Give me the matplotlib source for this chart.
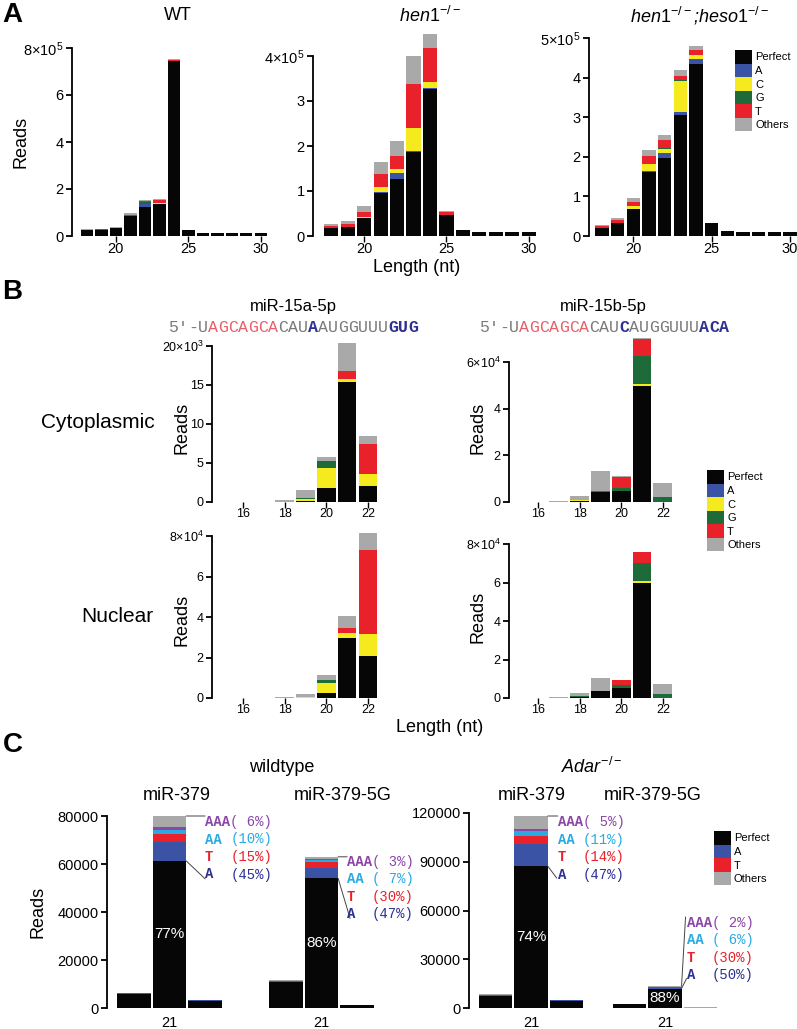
import numpy as np
import matplotlib
matplotlib.use('Agg')
import matplotlib.pyplot as plt
from matplotlib.patches import Patch

plt.rcParams['font.family'] = ['Liberation Sans', 'DejaVu Sans']
plt.rcParams['mathtext.fontset'] = 'custom'
plt.rcParams['mathtext.rm'] = 'Liberation Sans'
plt.rcParams['mathtext.it'] = 'Liberation Sans:italic'
plt.rcParams['mathtext.bf'] = 'Liberation Sans:bold'

# ---------------- data ----------------
# colours
c_perfect, c_A, c_C, c_G, c_T, c_oth = '#060606', '#3a53a4', '#f4ea1e', '#1d6b38', '#e8212a', '#a9a9a9'
c_AA, c_AAA = '#29abe2', '#8c46a8'
c_dblue = '#2e3192'

# panel A: lengths 18..30, reads in units of 1e5
lenA = np.arange(18, 31)
wt_perfect = [0.24, 0.27, 0.32, 0.85, 1.22, 1.36, 7.45, 0.26, 0.14, 0.11, 0.11, 0.11, 0.11]
wt_A = [0, 0, 0, 0, 0.13, 0, 0, 0, 0, 0, 0, 0, 0]
wt_C = [0, 0, 0, 0, 0.02, 0.05, 0.01, 0, 0, 0, 0, 0, 0]
wt_G = [0, 0, 0, 0, 0.06, 0.01, 0, 0, 0, 0, 0, 0, 0]
wt_T = [0.01, 0.01, 0.01, 0.03, 0.04, 0.10, 0.03, 0, 0, 0, 0, 0, 0]
wt_oth = [0.03, 0.02, 0.04, 0.09, 0.08, 0.04, 0.04, 0.01, 0, 0, 0, 0, 0]

hen_perfect = [0.17, 0.21, 0.39, 0.96, 1.26, 1.87, 3.26, 0.47, 0.13, 0.09, 0.09, 0.09, 0.09]
hen_A = [0, 0, 0, 0.02, 0.14, 0.02, 0.02, 0, 0, 0, 0, 0, 0]
hen_C = [0, 0, 0.04, 0.12, 0.10, 0.50, 0.14, 0, 0, 0, 0, 0, 0]
hen_G = [0] * 13
hen_T = [0.05, 0.06, 0.10, 0.28, 0.28, 0.98, 0.76, 0.06, 0, 0, 0, 0, 0]
hen_oth = [0.05, 0.07, 0.14, 0.26, 0.34, 0.63, 0.30, 0.03, 0, 0, 0, 0, 0]

hh_perfect = [0.21, 0.34, 0.69, 1.61, 1.98, 3.05, 4.35, 0.32, 0.12, 0.09, 0.09, 0.09, 0.09]
hh_A = [0, 0, 0, 0.02, 0.12, 0.09, 0.12, 0, 0, 0, 0, 0, 0]
hh_C = [0, 0, 0.06, 0.19, 0.10, 0.78, 0.11, 0, 0, 0, 0, 0, 0]
hh_G = [0, 0, 0, 0, 0.03, 0.02, 0, 0, 0, 0, 0, 0, 0]
hh_T = [0.04, 0.07, 0.12, 0.20, 0.19, 0.11, 0.12, 0, 0, 0, 0, 0, 0]
hh_oth = [0.03, 0.04, 0.10, 0.14, 0.13, 0.13, 0.09, 0.01, 0, 0, 0, 0, 0]

# panel B: lengths 16..22
lenB = np.arange(16, 23)
# miR-15a cytoplasmic (1e3)
a_cy_perfect = [0, 0, 0.03, 0.15, 1.8, 15.4, 2.1]
a_cy_A = [0] * 7
a_cy_C = [0, 0, 0.02, 0.25, 2.5, 0.4, 1.5]
a_cy_G = [0, 0, 0, 0.05, 0.9, 0, 0]
a_cy_T = [0, 0, 0, 0, 0, 1.0, 3.85]
a_cy_oth = [0.02, 0.05, 0.25, 1.13, 0.57, 3.6, 0.95]
# miR-15a nuclear (1e4)
a_nu_perfect = [0, 0, 0, 0.01, 0.26, 2.94, 2.08]
a_nu_A = [0] * 7
a_nu_C = [0, 0, 0.01, 0.06, 0.50, 0.26, 1.07]
a_nu_G = [0, 0, 0, 0, 0.11, 0, 0]
a_nu_T = [0, 0, 0, 0, 0, 0.25, 4.18]
a_nu_oth = [0.01, 0.02, 0.04, 0.11, 0.28, 0.59, 0.82]
# miR-15b cytoplasmic (1e4)
b_cy_perfect = [0, 0, 0.03, 0.44, 0.47, 4.96, 0.01]
b_cy_A = [0] * 7
b_cy_C = [0, 0, 0.05, 0, 0, 0.10, 0]
b_cy_G = [0, 0, 0.01, 0, 0.13, 1.18, 0.22]
b_cy_T = [0, 0, 0, 0.04, 0.48, 0.76, 0]
b_cy_oth = [0.02, 0.04, 0.15, 0.85, 0.02, 0.04, 0.60]
# miR-15b nuclear (1e4)
b_nu_perfect = [0, 0, 0.03, 0.35, 0.52, 5.99, 0.01]
b_nu_A = [0] * 7
b_nu_C = [0, 0, 0.04, 0, 0, 0.11, 0]
b_nu_G = [0, 0, 0.01, 0, 0.14, 0.90, 0.20]
b_nu_T = [0, 0, 0, 0.03, 0.29, 0.60, 0]
b_nu_oth = [0.01, 0.03, 0.20, 0.64, 0, 0, 0.50]

# panel C: lengths 20, 21, 22 for each miRNA
wt379 = dict(perfect=[6000, 61300, 3000], A=[0, 7900, 300], T=[150, 3200, 0],
             AA=[0, 1650, 0], AAA=[0, 1400, 0], oth=[100, 4550, 150])
wt5G = dict(perfect=[10800, 54000, 1250], A=[0, 4400, 0], T=[500, 2500, 0],
            AA=[0, 700, 0], AAA=[0, 400, 0], oth=[450, 1000, 0])
ad379 = dict(perfect=[7600, 87300, 4100], A=[0, 13900, 800], T=[600, 4500, 0],
             AA=[0, 3100, 0], AAA=[0, 1200, 0], oth=[600, 8150, 200])
ad5G = dict(perfect=[2400, 12000, 0], A=[0, 500, 0], T=[0, 700, 100],
            AA=[0, 0, 0], AAA=[0, 0, 0], oth=[50, 400, 350])
pct_perfect = {'wt379': '77%', 'wt5G': '86%', 'ad379': '74%', 'ad5G': '88%'}
tail_labels = ['AAA', 'AA ', 'T  ', 'A  ']
tail_colors = [c_AAA, c_AA, c_T, c_dblue]
tail_pcts = {'wt379': ['( 6%)', '(10%)', '(15%)', '(45%)'],
             'wt5G': ['( 3%)', '( 7%)', '(30%)', '(47%)'],
             'ad379': ['( 5%)', '(11%)', '(14%)', '(47%)'],
             'ad5G': ['( 2%)', '( 6%)', '(30%)', '(50%)']}

# ---------------- figure ----------------
W, H = 797, 1029
fig = plt.figure(figsize=(W / 100, H / 100), dpi=100)


def box(l, t, r, b):
    return fig.add_axes([l / W, 1 - b / H, (r - l) / W, (b - t) / H])


def ftext(x, y, s, **kw):
    kw.setdefault('ha', 'center')
    kw.setdefault('va', 'center')
    fig.text(x / W, 1 - y / H, s, **kw)


def style(ax, ytop, yticks, ylabels, xticks, xlabels, fs, xtick_len=4, xpad=0.5):
    for s in ['top', 'right', 'bottom']:
        ax.spines[s].set_visible(False)
    ax.spines['left'].set_bounds(0, ytop)
    ax.spines['left'].set_linewidth(1.3)
    ax.set_yticks(yticks)
    ax.set_yticklabels(ylabels, fontsize=fs)
    ax.set_xticks(xticks)
    ax.set_xticklabels(xlabels, fontsize=fs)
    ax.tick_params(axis='y', length=4, width=1.3, pad=2)
    ax.tick_params(axis='x', length=xtick_len, width=1.0, pad=xpad)
    ax.patch.set_alpha(0)


def stack(ax, x, segs, colors, width):
    bottom = np.zeros(len(x))
    for v, c in zip(segs, colors):
        v = np.asarray(v, float)
        ax.bar(x, v, width, bottom=bottom, color=c, linewidth=0)
        bottom += v
    return bottom


colsA = [c_perfect, c_A, c_C, c_G, c_T, c_oth]
labsA = ['Perfect', 'A', 'C', 'G', 'T', 'Others']


def legend(labels, colors, x, y):
    fig.legend(handles=[Patch(facecolor=c, edgecolor='none') for c in colors], labels=labels,
               loc='upper left', bbox_to_anchor=(x / W, 1 - y / H), frameon=False, fontsize=8,
               handlelength=1.5, handleheight=1.5, labelspacing=0, handletextpad=0.3,
               borderpad=0, borderaxespad=0)


# ---- Panel A ----
ax = box(72, 48, 268, 236)
stack(ax, lenA, [wt_perfect, wt_A, wt_C, wt_G, wt_T, wt_oth], colsA, 0.86)
ax.set_xlim(16.97, 30.5)
ax.set_ylim(0, 8)
style(ax, 8, [0, 2, 4, 6, 8], ['0', '2', '4', '6', r'8$\times$10$^5$'], [20, 25, 30], ['20', '25', '30'], 10.5)

ax = box(313, 29, 537, 236)
stack(ax, lenA, [hen_perfect, hen_A, hen_C, hen_G, hen_T, hen_oth], colsA, 0.86)
ax.set_xlim(16.89, 30.5)
ax.set_ylim(0, 4.6)
style(ax, 4, [0, 1, 2, 3, 4], ['0', '1', '2', '3', r'4$\times$10$^5$'], [20, 25, 30], ['20', '25', '30'], 10.5)

ax = box(589, 38, 797, 236)
stack(ax, lenA, [hh_perfect, hh_A, hh_C, hh_G, hh_T, hh_oth], colsA, 0.86)
ax.set_xlim(17.17, 30.45)
ax.set_ylim(0, 5)
style(ax, 5, [0, 1, 2, 3, 4, 5], ['0', '1', '2', '3', '4', r'5$\times$10$^5$'], [20, 25, 30], ['20', '25', '30'], 10.5)
legend(labsA, colsA, 735, 50)

ftext(12, 15, 'A', fontsize=20, fontweight='bold')
ftext(178, 16, 'WT', fontsize=13)
ftext(430, 16, r'$\mathit{hen1}^{-/-}$', fontsize=13)
ftext(700, 16, r'$\mathit{hen1}^{-/-}$;$\mathit{heso1}^{-/-}$', fontsize=13, style='italic')
ftext(21, 142, 'Reads', fontsize=13, rotation=90)
ftext(417, 267, 'Length (nt)', fontsize=13)

# ---- Panel B ----
ax = box(212, 340, 380, 502)
stack(ax, lenB, [a_cy_perfect, a_cy_A, a_cy_C, a_cy_G, a_cy_T, a_cy_oth], colsA, 0.9)
ax.set_xlim(14.51, 22.58)
ax.set_ylim(0, 20.75)
style(ax, 20, [0, 5, 10, 15, 20], ['0', '5', '10', '15', r'20$\times$10$^3$'], [16, 18, 20, 22], ['16', '18', '20', '22'], 9)

ax = box(212, 532, 380, 698)
stack(ax, lenB, [a_nu_perfect, a_nu_A, a_nu_C, a_nu_G, a_nu_T, a_nu_oth], colsA, 0.9)
ax.set_xlim(14.51, 22.58)
ax.set_ylim(0, 8.2)
style(ax, 8, [0, 2, 4, 6, 8], ['0', '2', '4', '6', r'8$\times$10$^4$'], [16, 18, 20, 22], ['16', '18', '20', '22'], 9)

ax = box(509, 336, 677, 502)
stack(ax, lenB, [b_cy_perfect, b_cy_A, b_cy_C, b_cy_G, b_cy_T, b_cy_oth], colsA, 0.9)
ax.set_xlim(14.61, 22.68)
ax.set_ylim(0, 166 / 23.33)
style(ax, 6, [0, 2, 4, 6], ['0', '2', '4', r'6$\times$10$^4$'], [16, 18, 20, 22], ['16', '18', '20', '22'], 9)

ax = box(509, 544, 677, 698)
stack(ax, lenB, [b_nu_perfect, b_nu_A, b_nu_C, b_nu_G, b_nu_T, b_nu_oth], colsA, 0.9)
ax.set_xlim(14.61, 22.68)
ax.set_ylim(0, 8)
style(ax, 8, [0, 2, 4, 6, 8], ['0', '2', '4', '6', r'8$\times$10$^4$'], [16, 18, 20, 22], ['16', '18', '20', '22'], 9)
legend(labsA, colsA, 707, 470)

ftext(12, 292, 'B', fontsize=20, fontweight='bold')
ftext(293, 306, 'miR-15a-5p', fontsize=12)
ftext(603, 306, 'miR-15b-5p', fontsize=12)
ftext(155, 423, 'Cytoplasmic', fontsize=15, ha='right')
ftext(153, 617, 'Nuclear', fontsize=15, ha='right')
for xr, yr in [(182, 428), (182, 620), (478, 428), (478, 617)]:
    ftext(xr, yr, 'Reads', fontsize=13, rotation=90)
ftext(440, 727, 'Length (nt)', fontsize=13)

# sequences, one monospace character at a time
seq_a = [('5\u2032-U', '#7a7a7a', 'normal'), ('AGCAGCA', '#e8606a', 'normal'), ('CAU', '#7a7a7a', 'normal'),
         ('A', c_dblue, 'bold'), ('AUGGUUU', '#7a7a7a', 'normal'), ('GUG', c_dblue, 'bold')]
seq_b = [('5\u2032-U', '#7a7a7a', 'normal'), ('AGCAGCA', '#e8606a', 'normal'), ('CAU', '#7a7a7a', 'normal'),
         ('C', c_dblue, 'bold'), ('AUGGUUU', '#7a7a7a', 'normal'), ('ACA', c_dblue, 'bold')]
for seq, x0 in [(seq_a, 168), (seq_b, 479)]:
    i = 0
    for part, col, wgt in seq:
        for ch in part:
            ftext(x0 + 5 + i * 10.0, 328, ch, fontsize=12, color=col, fontweight=wgt,
                  family=['Liberation Mono', 'DejaVu Sans Mono'])
            i += 1

# ---- Panel C ----
colsC = [c_perfect, c_A, c_T, c_AA, c_AAA, c_oth]
keysC = ['perfect', 'A', 'T', 'AA', 'AAA', 'oth']
wC = 0.94


def callout(ax, xc, d, key, top_off, bot_off, txt_off):
    total = sum(d[k][1] for k in keysC)
    perf = d['perfect'][1]
    xr = xc + wC / 2
    lp = dict(arrowstyle='-', lw=0.7, color='#444444', shrinkA=0, shrinkB=0)
    ax.annotate('', xy=(xr, total), xytext=top_off, textcoords='offset pixels', arrowprops=lp)
    ax.annotate('', xy=(xr, perf), xytext=bot_off, textcoords='offset pixels', arrowprops=lp)
    for i, (lab, col, pc) in enumerate(zip(tail_labels, tail_colors, tail_pcts[key])):
        oy = txt_off[1] - i * 17.5
        ax.annotate(lab, xy=(xr, total), xytext=(txt_off[0], oy), textcoords='offset pixels',
                    ha='left', va='center', fontsize=10, color=col, fontweight='bold',
                    family=['Liberation Mono', 'DejaVu Sans Mono'])
        ax.annotate(pc, xy=(xr, total), xytext=(txt_off[0] + 3 * 8.33, oy), textcoords='offset pixels',
                    ha='left', va='center', fontsize=10, color=col,
                    family=['Liberation Mono', 'DejaVu Sans Mono'])
    ax.text(xc, perf / 2, pct_perfect[key], color='white', ha='center', va='center', fontsize=11)


# wildtype
ax = box(107, 816, 400, 1008)
pos1 = np.array([0, 1, 2])
pos2 = np.array([4.28, 5.28, 6.28])
for pos, d in [(pos1, wt379), (pos2, wt5G)]:
    stack(ax, pos, [d[k] for k in keysC], colsC, wC)
ax.set_xlim(-0.76, (400 - 134) / 35.5)
ax.set_ylim(0, 80000)
style(ax, 80000, [0, 20000, 40000, 60000, 80000], ['0', '20000', '40000', '60000', '80000'],
      [1, 5.28], ['21', '21'], 10.5, xtick_len=0, xpad=6)
callout(ax, 1, wt379, 'wt379', (19, 0), (19, -18), (19, -6))
callout(ax, 5.28, wt5G, 'wt5G', (9, 0), (12, -40), (9, -5))

# Adar
ax = box(469, 813, 760, 1008)
pos1 = np.array([0, 1, 2])
pos2 = np.array([3.77, 4.77, 5.77])
for pos, d in [(pos1, ad379), (pos2, ad5G)]:
    stack(ax, pos, [d[k] for k in keysC], colsC, wC)
ax.set_xlim(-0.75, (760 - 495.5) / 35.5)
ax.set_ylim(0, 120000)
style(ax, 120000, [0, 30000, 60000, 90000, 120000], ['0', '30000', '60000', '90000', '120000'],
      [1, 4.77], ['21', '21'], 10.5, xtick_len=0, xpad=6)
callout(ax, 1, ad379, 'ad379', (10, 0), (9, -12), (10, -6))
callout(ax, 4.77, ad5G, 'ad5G', (4, 69), (5, 10), (5, 63))
legend(['Perfect', 'A', 'T', 'Others'], [c_perfect, c_A, c_T, c_oth], 714, 831)

ftext(13, 745, 'C', fontsize=20, fontweight='bold')
ftext(282, 767, 'wildtype', fontsize=13)
ftext(592, 767, r'$\mathit{Adar}^{-/-}$', fontsize=13)
ftext(177, 795, 'miR-379', fontsize=13)
ftext(343, 795, 'miR-379-5G', fontsize=13)
ftext(532, 795, 'miR-379', fontsize=13)
ftext(653, 795, 'miR-379-5G', fontsize=13)
ftext(38, 912, 'Reads', fontsize=13, rotation=90)

fig.savefig('out.png', dpi=100)
